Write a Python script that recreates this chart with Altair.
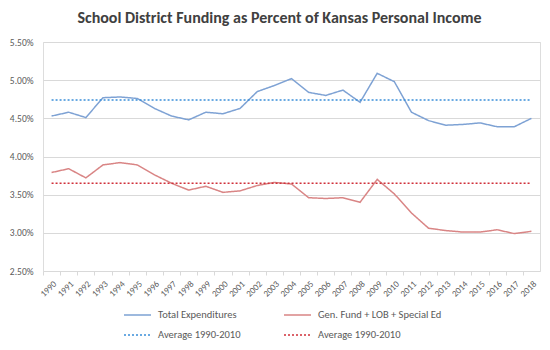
import altair as alt
import pandas as pd

years = [str(y) for y in range(1990, 2019)]
total_exp = [4.53, 4.58, 4.51, 4.77, 4.78, 4.76, 4.63, 4.53, 4.48, 4.58, 4.56, 4.63,
             4.85, 4.93, 5.02, 4.84, 4.80, 4.87, 4.71, 5.09, 4.98, 4.58, 4.47, 4.41,
             4.42, 4.44, 4.39, 4.39, 4.50]
gen_fund = [3.79, 3.84, 3.72, 3.89, 3.92, 3.89, 3.76, 3.65, 3.56, 3.61, 3.53, 3.55,
            3.62, 3.66, 3.64, 3.46, 3.45, 3.46, 3.40, 3.70, 3.51, 3.26, 3.06, 3.03,
            3.01, 3.01, 3.04, 2.99, 3.02]
avg_total = 4.74
avg_gen = 3.65

# order chosen so the 2-column legend reads like the reference
series_names = ["Total Expenditures", "Average 1990-2010 (Total)",
                "Gen. Fund + LOB + Special Ed", "Average 1990-2010 (Gen)"]
series_colors = ["#7EA2D4", "#3A8FD9", "#D98585", "#D0303A"]
series_dash = [[1, 0], [2, 2], [1, 0], [2, 2]]

rows = []
for i, y in enumerate(years):
    rows.append({"year": y, "value": total_exp[i], "series": series_names[0]})
    rows.append({"year": y, "value": avg_total, "series": series_names[1]})
    rows.append({"year": y, "value": gen_fund[i], "series": series_names[2]})
    rows.append({"year": y, "value": avg_gen, "series": series_names[3]})
df = pd.DataFrame(rows)

font = "Carlito, Lato, sans-serif"
step = 497 / 29

legend_kw = dict(title=None, orient="none", legendX=80, legendY=266,
                 columns=2, columnPadding=42, rowPadding=6, clipHeight=14,
                 symbolType="stroke", symbolSize=729,
                 symbolStrokeWidth=1.5, labelFontSize=10.5,
                 labelFont=font, labelColor="#595959", labelOffset=6,
                 labelExpr="substring(datum.label, 0, 7) == 'Average' ? 'Average 1990-2010' : datum.label")

chart = alt.Chart(df).mark_line(strokeWidth=1.5).encode(
    x=alt.X("year:O", title=None, sort=years,
            axis=alt.Axis(labelAngle=-45, labelFontSize=9, labelColor="#595959",
                          labelFont=font, labelPadding=4, domain=False,
                          ticks=True, tickSize=4, tickColor="#D9D9D9",
                          tickOffset=-step / 2, labelOffset=step / 2, grid=False)),
    y=alt.Y("value:Q", title=None,
            scale=alt.Scale(domain=[2.5, 5.5], nice=False, zero=False),
            axis=alt.Axis(values=[2.5, 3.0, 3.5, 4.0, 4.5, 5.0, 5.5],
                          labelExpr="format(datum.value, '.2f') + '%'",
                          labelFontSize=9.5, labelColor="#595959", labelFont=font,
                          labelPadding=10, ticks=False, domain=False,
                          grid=True, gridColor="#D9D9D9", gridWidth=1)),
    color=alt.Color("series:N", scale=alt.Scale(domain=series_names, range=series_colors),
                    legend=alt.Legend(**legend_kw)),
    strokeDash=alt.StrokeDash("series:N", scale=alt.Scale(domain=series_names, range=series_dash),
                              legend=alt.Legend(**legend_kw)),
).properties(
    width=497, height=229,
    title=alt.Title("School District Funding as Percent of Kansas Personal Income",
                    font=font, fontSize=16, fontWeight="bold", color="#404040",
                    anchor="middle", dx=-12, offset=11),
    autosize=alt.AutoSizeParams(type="none"),
    padding={"left": 43, "top": 42, "right": 10, "bottom": 79},
).configure_view(stroke=None).configure(background="white")

chart.save("out.html", embed_options={"renderer": "svg", "actions": False})
